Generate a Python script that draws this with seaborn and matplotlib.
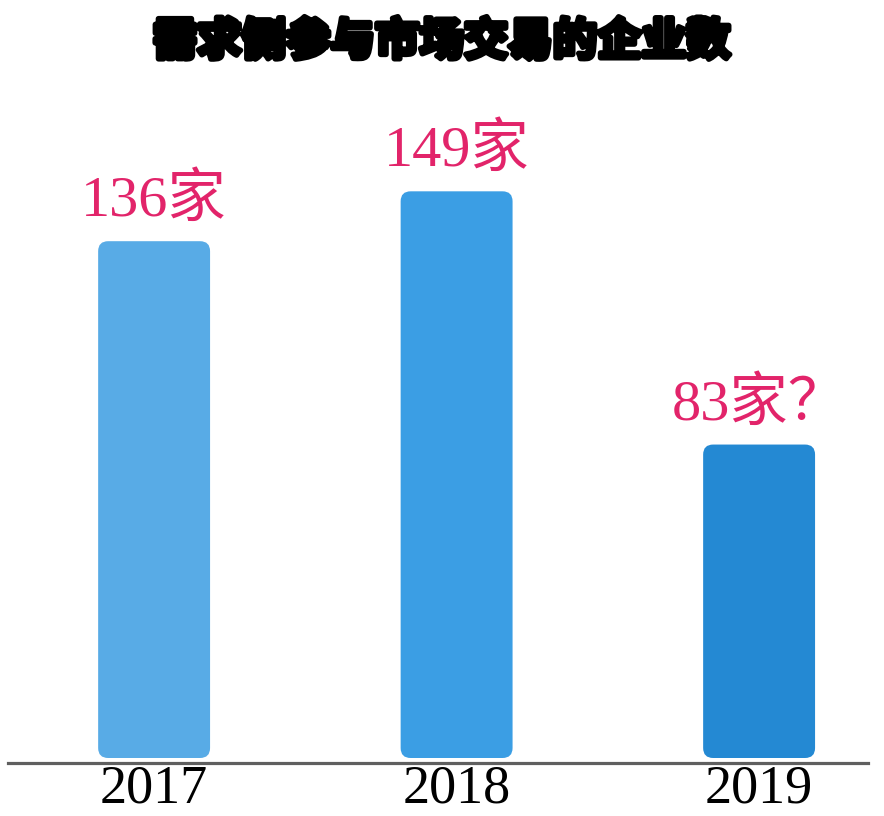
import matplotlib
matplotlib.use("Agg")
import matplotlib.pyplot as plt
import matplotlib.patheffects as pe
from matplotlib.patches import FancyBboxPatch
import seaborn as sns
import pandas as pd

years = ["2017", "2018", "2019"]
counts = [136, 149, 83]
labels = ["136家", "149家", "83家？"]
bar_colors = ["#58abe6", "#3b9ee4", "#2489d3"]
title = "需求侧参与市场交易的企业数"

sns.set_theme(style="white")
plt.rcParams["font.family"] = ["Noto Sans CJK SC", "DejaVu Sans"]

W, H = 884, 816
fig = plt.figure(figsize=(W / 100, H / 100), dpi=100)
ax = fig.add_axes([8 / W, 1 - 763 / H, 860 / W, 663 / H])

df = pd.DataFrame({"year": years, "count": counts})
sns.barplot(data=df, x="year", y="count", hue="year", palette=bar_colors,
            legend=False, width=0.37, ax=ax)
ax.set_xlim(-0.483, 2.36)
ax.set_ylim(0, 172.8)

# px -> data units
fig.canvas.draw()
bb = ax.get_window_extent()
px_x = (2.36 + 0.483) / bb.width
px_y = 172.8 / bb.height
r = 10 * px_x
gap = 5 * px_y

# swap plain bars for rounded ones
for p, c in zip(list(ax.patches), bar_colors):
    x, w, h = p.get_x(), p.get_width(), p.get_height()
    p.remove()
    ax.add_patch(FancyBboxPatch((x, gap), w, h - gap,
                                boxstyle=f"round,pad=0,rounding_size={r}",
                                mutation_aspect=px_y / px_x,
                                facecolor=c, edgecolor="none"))

for i, (v, t) in enumerate(zip(counts, labels)):
    ax.annotate(t, (i, v), xytext=(0, 18), textcoords="offset points",
                ha="center", va="baseline", fontsize=42, color="#e2246a",
                family=["Liberation Serif", "Noto Sans CJK SC"])

for s in ["top", "left", "right"]:
    ax.spines[s].set_visible(False)
ax.spines["bottom"].set_color("#5f5f5f")
ax.spines["bottom"].set_linewidth(2.3)
ax.set_yticks([])
ax.set_xlabel("")
ax.set_ylabel("")
ax.tick_params(axis="x", length=0, pad=1)
for tl in ax.get_xticklabels():
    tl.set_fontsize(39)
    tl.set_family("Liberation Serif")
    tl.set_color("black")

fig.text(0.5, 1 - 42 / H, title, ha="center", va="center", fontsize=32,
         fontweight="heavy", color="black",
         path_effects=[pe.withStroke(linewidth=4, foreground="black")])

fig.savefig("out.png", dpi=100, facecolor="white")
